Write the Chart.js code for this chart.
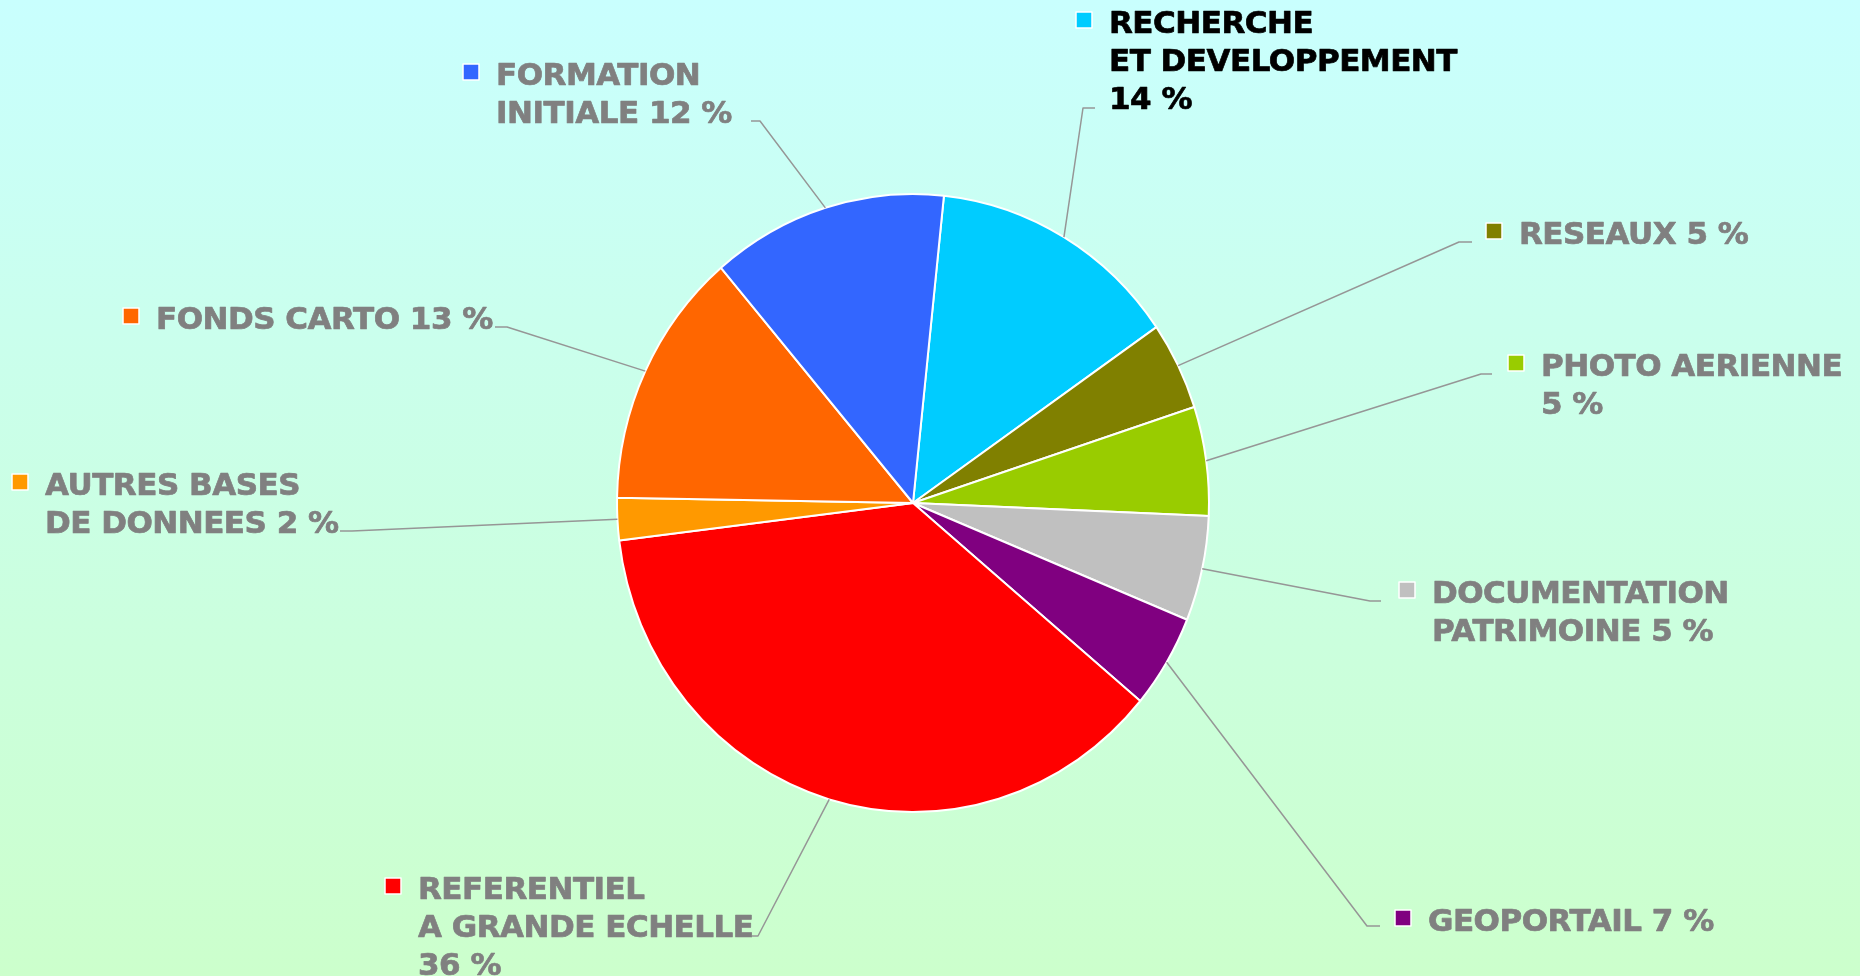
<!DOCTYPE html>
<html lang="fr">
<head>
<meta charset="utf-8">
<title>Repartition</title>
<script src="https://cdn.jsdelivr.net/npm/chart.js@4.4.1/dist/chart.umd.min.js"></script>
<style>
    html, body {
        margin: 0;
        padding: 0;
        overflow: hidden;
    }
    body {
        background: linear-gradient(to bottom, #c9fffe 0%, #ccffcc 100%);
    }
    #wrap {
        position: relative;
        width: 1860px;
        height: 976px;
    }
</style>
</head>
<body>
<div id="wrap">
    <canvas id="pieChart"></canvas>
</div>
<script>
// Data, clockwise from the top
const categories = [
    ['RECHERCHE', 'ET DEVELOPPEMENT'],
    ['RESEAUX'],
    ['PHOTO AERIENNE'],
    ['DOCUMENTATION', 'PATRIMOINE'],
    ['GEOPORTAIL'],
    ['REFERENTIEL', 'A GRANDE ECHELLE'],
    ['AUTRES BASES', 'DE DONNEES'],
    ['FONDS CARTO'],
    ['FORMATION', 'INITIALE']
];
const shares = [13.7, 4.6, 5.7, 5.5, 4.9, 37.0, 2.2, 13.5, 12.9];
const percentLabels = [14, 5, 5, 5, 7, 36, 2, 13, 12];
const sliceColors = ['#00ccff', '#808000', '#99cc00', '#c0c0c0', '#800080', '#ff0000', '#ff9900', '#ff6600', '#3366ff'];

// Where each label sits: text left, first baseline, leader elbow, percent on own line?
const labelLayout = [
    { x: 1109, y: 33, elbow: [1083, 108], end: 1095, ownLine: true, color: '#000000' },
    { x: 1519, y: 244, elbow: [1459, 242], end: 1472 },
    { x: 1541, y: 376, elbow: [1481, 374], end: 1492, ownLine: true },
    { x: 1432, y: 603, elbow: [1370, 601], end: 1381 },
    { x: 1428, y: 931, elbow: [1367, 926], end: 1380 },
    { x: 418, y: 899, elbow: [758, 936], end: 752, ownLine: true },
    { x: 45, y: 495, elbow: [352, 531], end: 340 },
    { x: 156, y: 329, elbow: [507, 327], end: 495 },
    { x: 496, y: 85, elbow: [760, 121], end: 751 }
];

const centerX = 913;
const centerY = 503;
const pieRadius = 296;
const stretchY = 1.044;   // the original pie is a little taller than wide
const lineHeight = 38;

// Stretch the pie vertically around its centre
const ellipsePlugin = {
    id: 'ellipse',
    beforeDatasetsDraw(chart) {
        const ctx = chart.ctx;
        ctx.save();
        ctx.translate(centerX, centerY);
        ctx.scale(1, stretchY);
        ctx.translate(-centerX, -centerY);
    },
    afterDatasetsDraw(chart) {
        chart.ctx.restore();
    }
};

// Labels with colour key and leader lines
const labelPlugin = {
    id: 'pieLabels',
    afterDraw(chart) {
        const ctx = chart.ctx;
        const arcs = chart.getDatasetMeta(0).data;
        ctx.save();
        ctx.font = 'bold 31px "DejaVu Sans", Verdana, sans-serif';
        if ('letterSpacing' in ctx) ctx.letterSpacing = '-0.5px';
        ctx.textBaseline = 'alphabetic';
        ctx.textAlign = 'left';
        ctx.lineJoin = 'round';

        arcs.forEach((arc, i) => {
            const lay = labelLayout[i];
            const p = arc.getProps(['x', 'y', 'startAngle', 'endAngle', 'outerRadius'], true);
            const mid = (p.startAngle + p.endAngle) / 2;
            const rimX = p.x + p.outerRadius * Math.cos(mid);
            const rimY = p.y + p.outerRadius * Math.sin(mid) * stretchY;

            // leader line
            ctx.strokeStyle = '#969696';
            ctx.lineWidth = 1.5;
            ctx.beginPath();
            ctx.moveTo(rimX, rimY);
            ctx.lineTo(lay.elbow[0], lay.elbow[1]);
            ctx.lineTo(lay.end, lay.elbow[1]);
            ctx.stroke();

            // text lines
            const lines = categories[i].slice();
            const pct = percentLabels[i] + ' %';
            if (lay.ownLine) lines.push(pct);
            else lines[lines.length - 1] += ' ' + pct;

            // colour key
            const keyY = lay.y - 13 - 8;
            ctx.fillStyle = sliceColors[i];
            ctx.fillRect(lay.x - 33, keyY, 16, 16);
            ctx.strokeStyle = '#ffffff';
            ctx.lineWidth = 1.5;
            ctx.strokeRect(lay.x - 33, keyY, 16, 16);

            const textColor = lay.color || '#808080';
            ctx.fillStyle = textColor;
            ctx.strokeStyle = textColor;
            ctx.lineWidth = 0.7;
            lines.forEach((line, j) => {
                ctx.fillText(line, lay.x, lay.y + j * lineHeight);
                ctx.strokeText(line, lay.x, lay.y + j * lineHeight);
            });
        });
        ctx.restore();
    }
};

document.addEventListener('DOMContentLoaded', () => {
    const ctx = document.getElementById('pieChart');
    const box = 600;
    new Chart(ctx, {
        type: 'pie',
        data: {
            labels: categories.map(c => c.join(' ')),
            datasets: [{
                data: shares,
                backgroundColor: sliceColors,
                borderColor: '#ffffff',
                borderWidth: 2,
                clip: false
            }]
        },
        options: {
            responsive: true,
            maintainAspectRatio: false,
            animation: false,
            rotation: 6,
            radius: pieRadius,
            layout: {
                padding: {
                    left: centerX - box / 2,
                    right: 1860 - centerX - box / 2,
                    top: centerY - box / 2,
                    bottom: 976 - centerY - box / 2
                }
            },
            plugins: {
                legend: { display: false },
                tooltip: { enabled: false }
            }
        },
        plugins: [ellipsePlugin, labelPlugin]
    });
});
</script>
</body>
</html>
